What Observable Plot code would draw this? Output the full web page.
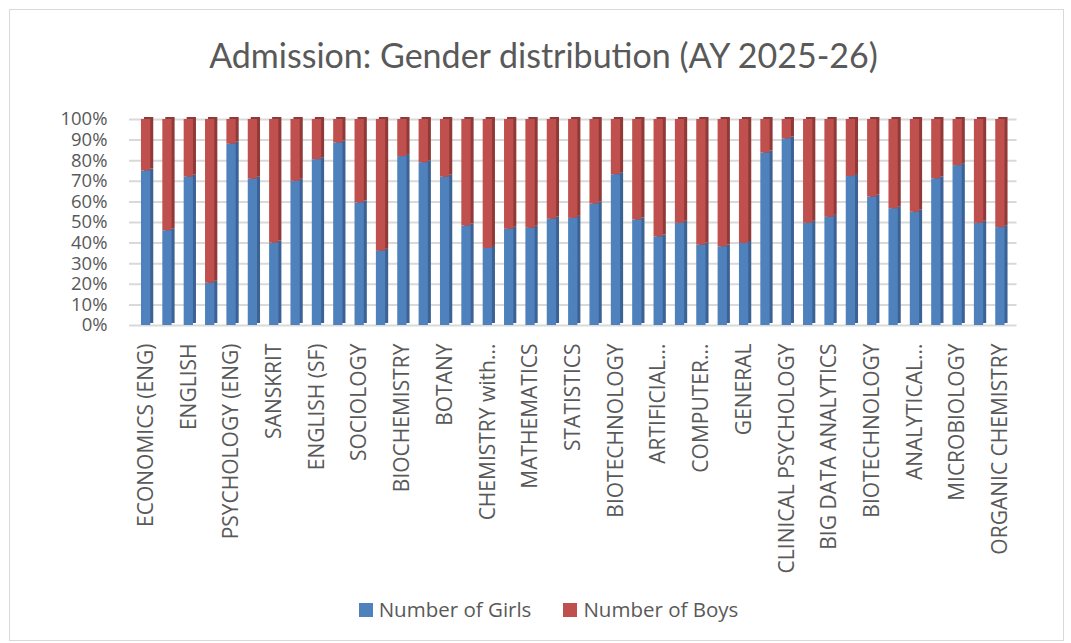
<!DOCTYPE html>
<html>
<head>
<meta charset="utf-8">
<script src="https://cdn.jsdelivr.net/npm/d3@7"></script>
<script src="https://cdn.jsdelivr.net/npm/@observablehq/plot@0.6"></script>
<style>
  html, body { margin: 0; padding: 0; background: #fff; }
  #wrap { position: relative; width: 1071px; height: 643px; overflow: hidden; background: #fff; }
  #frame { position: absolute; left: 9px; top: 9px; width: 1055px; height: 632px; border: 1px solid #d9d9d9; box-sizing: border-box; }
  #title { position: absolute; left: 8px; width: 1071px; top: 34px; text-align: center; font-family: Lato, "Open Sans", sans-serif; font-size: 34px; color: #595959; }
  #chart { position: absolute; left: 0; top: 90px; }
  #legend { position: absolute; left: 13px; width: 1071px; top: 595px; text-align: center; font-family: "Open Sans", sans-serif; font-size: 20.5px; color: #595959; }
  #legend span.item { display: inline-block; margin: 0 16px; }
  #legend span.sw { display: inline-block; width: 14px; height: 14px; margin-right: 6px; vertical-align: 0px; }
  svg text { font-family: "Open Sans", sans-serif; }
</style>
</head>
<body>
<div id="wrap">
  <div id="frame"></div>
  <div id="title">Admission: Gender distribution (AY 2025-26)</div>
  <div id="chart"></div>
  <div id="legend"></div>
</div>
<script>
// Category labels (only every other category label is shown on the axis)
const categories = [
  "ECONOMICS (ENG)", "", "ENGLISH", "", "PSYCHOLOGY (ENG)", "", "SANSKRIT", "",
  "ENGLISH (SF)", "", "SOCIOLOGY", "", "BIOCHEMISTRY", "", "BOTANY", "",
  "CHEMISTRY with...", "", "MATHEMATICS", "", "STATISTICS", "", "BIOTECHNOLOGY", "",
  "ARTIFICIAL...", "", "COMPUTER...", "", "GENERAL", "", "CLINICAL PSYCHOLOGY", "",
  "BIG DATA ANALYTICS", "", "BIOTECHNOLOGY", "", "ANALYTICAL...", "", "MICROBIOLOGY", "",
  "ORGANIC CHEMISTRY"
];
// Share of girls (%) per category
const girls = [
  75, 46, 72, 20.5, 88, 71, 40, 70, 80.5, 88.6,
  59.5, 36, 82, 79, 72, 48.3, 37.4, 46.7, 47.2, 51.6,
  52, 59, 73.2, 51.2, 43, 49.6, 39, 38.2, 39.8, 83.7,
  90.6, 49.6, 52.5, 72.3, 62.3, 56.7, 55, 71.2, 77.6, 49.6,
  47.5
];
// Share of boys (%) per category
const boys = [
  25, 54, 28, 79.5, 12, 29, 60, 30, 19.5, 11.4,
  40.5, 64, 18, 21, 28, 51.7, 62.6, 53.3, 52.8, 48.4,
  48, 41, 26.8, 48.8, 57, 50.4, 61, 61.8, 60.2, 16.3,
  9.4, 50.4, 47.5, 27.7, 37.7, 43.3, 45, 28.8, 22.4, 50.4,
  52.5
];
const seriesNames = ["Number of Girls", "Number of Boys"];
const colors = ["#4F81BD", "#C0504D"];
const sideColors = ["#3B6294", "#8F3A38"];
const yTicks = [0, 10, 20, 30, 40, 50, 60, 70, 80, 90, 100];

const rows = [];
categories.forEach((c, i) => {
  const total = girls[i] + boys[i];
  const g = girls[i] / total * 100;
  rows.push({i, series: seriesNames[0], y1: 0, y2: g});
  rows.push({i, series: seriesNames[1], y1: g, y2: 100});
});

const chart = Plot.plot({
  width: 1071,
  height: 490,
  marginLeft: 129,
  marginRight: 54.5,
  marginTop: 29,
  marginBottom: 255,
  style: {fontSize: "21px", color: "#595959", background: "transparent"},
  x: {
    type: "band",
    domain: d3.range(categories.length),
    paddingInner: 0.565,
    paddingOuter: 0.56,
    round: false,
    tickFormat: i => categories[i],
    tickRotate: -90,
    tickSize: 0,
    tickPadding: 18,
    label: null
  },
  y: {
    domain: [0, 100],
    ticks: yTicks,
    tickFormat: d => d + "%",
    tickSize: 0,
    tickPadding: 22,
    label: null
  },
  color: {domain: seriesNames, range: colors},
  marks: [
    Plot.gridY(yTicks, {stroke: "#d9d9d9", strokeOpacity: 1, strokeWidth: 2}),
    Plot.barY(rows, {filter: d => d.series === seriesNames[0], x: "i", y1: "y1", y2: "y2", fill: sideColors[0], dx: 3, dy: -2}),
    Plot.barY(rows, {filter: d => d.series === seriesNames[1], x: "i", y1: "y1", y2: "y2", fill: sideColors[1], dx: 3, dy: -2}),
    Plot.barY(rows, {x: "i", y1: "y1", y2: "y2", fill: "series"})
  ]
});
chart.querySelectorAll("g[aria-label='y-axis tick label']").forEach(e => e.setAttribute("font-size", "18.5"));
document.getElementById("chart").appendChild(chart);

const legend = document.getElementById("legend");
seriesNames.forEach((s, k) => {
  const item = document.createElement("span");
  item.className = "item";
  const sw = document.createElement("span");
  sw.className = "sw";
  sw.style.background = colors[k];
  item.appendChild(sw);
  item.appendChild(document.createTextNode(s));
  legend.appendChild(item);
});
</script>
</body>
</html>
